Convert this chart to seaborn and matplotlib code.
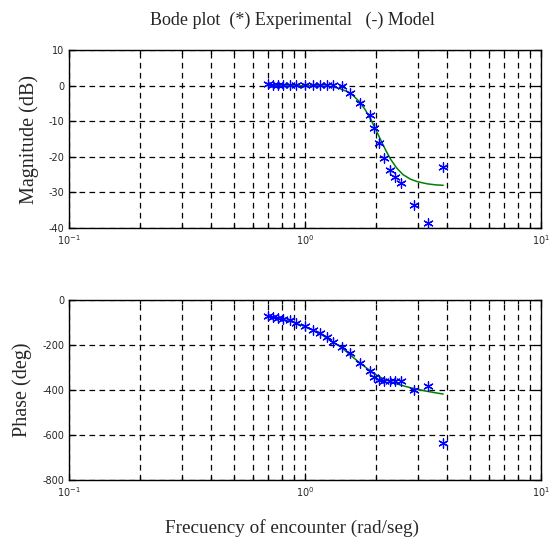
import numpy as np
import pandas as pd
import matplotlib
matplotlib.use("Agg")
import matplotlib.pyplot as plt
import matplotlib.ticker as mticker
import seaborn as sns

# Experimental data
freq = [0.70, 0.73, 0.77, 0.81, 0.86, 0.92, 1.00, 1.08, 1.16, 1.24, 1.32, 1.43,
        1.55, 1.71, 1.89, 1.96, 2.06, 2.17, 2.29, 2.41, 2.54, 2.90, 3.33, 3.85]
mag_exp = [0.4, 0.2, 0.3, 0.1, 0.2, 0.3, 0.2, 0.1, 0.2, 0.1, 0.1, -0.1,
           -2.2, -4.9, -8.3, -12.0, -16.0, -20.4, -23.7, -25.8, -27.4, -33.5, -38.5, -22.9]
phase_exp = [-71, -75, -80, -84, -90, -104, -116, -133, -148, -166, -185, -207,
             -237, -279, -316, -340, -354, -358, -360, -360, -362, -400, -382, -637]

# Model curves
freq_mod = [0.70, 0.80, 0.90, 1.00, 1.10, 1.20, 1.30, 1.40, 1.50, 1.60, 1.70, 1.80,
            1.90, 2.00, 2.10, 2.20, 2.30, 2.45, 2.60, 2.80, 3.00, 3.30, 3.60, 3.85]
mag_mod = [0.0, 0.0, 0.0, 0.0, 0.0, -0.1, -0.3, -0.8, -1.6, -2.8, -4.5, -6.8,
           -9.5, -12.5, -15.5, -18.2, -20.6, -23.2, -25.0, -26.3, -27.0, -27.6, -27.9, -28.0]
phase_mod = [-72, -85, -100, -118, -138, -160, -185, -205, -230, -255, -278, -298,
             -316, -332, -345, -355, -363, -373, -381, -390, -397, -406, -413, -418]

mag_ticks = [10, 0, -10, -20, -30, -40]
phase_ticks = [0, -200, -400, -600, -800]

sns.set_style("ticks")
plt.rcParams['font.family'] = ['DejaVu Sans']

fig = plt.figure(figsize=(5.55, 5.51), dpi=100)
ax1 = fig.add_axes([69/555, (551-228)/551, 472/555, 178/551])
ax2 = fig.add_axes([69/555, (551-480)/551, 472/555, 180/551])

df_exp = pd.DataFrame({"freq": freq, "mag": mag_exp, "phase": phase_exp})
df_mod = pd.DataFrame({"freq": freq_mod, "mag": mag_mod, "phase": phase_mod})

ast = (6, 2, 0)
for ax, col, ticks, lab in [(ax1, "mag", mag_ticks, "Magnitude (dB)"),
                             (ax2, "phase", phase_ticks, "Phase (deg)")]:
    ax.set_xscale("log")
    sns.lineplot(data=df_mod, x="freq", y=col, ax=ax, color="#008000", lw=1.1,
                 zorder=3)
    sns.scatterplot(data=df_exp, x="freq", y=col, ax=ax, marker=ast, s=46,
                    color="#0000ff", edgecolor="#0000ff", linewidth=0.9, zorder=4)
    ax.set_xlim(0.1, 10)
    ax.set_ylim(min(ticks), max(ticks))
    ax.set_yticks(ticks)
    ax.set_yticklabels([str(t) for t in ticks])
    ax.xaxis.set_major_locator(mticker.LogLocator(base=10, numticks=5))
    ax.xaxis.set_minor_locator(mticker.LogLocator(base=10, subs=np.arange(2, 10), numticks=20))
    ax.xaxis.set_minor_formatter(mticker.NullFormatter())
    ax.grid(True, which="both", axis="x", color="black", linestyle=(0, (4.5, 3.5)), lw=0.9)
    ax.grid(True, which="major", axis="y", color="black", linestyle=(0, (4.5, 3.5)), lw=0.9)
    ax.tick_params(which="both", direction="in", top=True, right=True, labelsize=7,
                   color="black", width=0.9)
    ax.tick_params(which="major", length=5)
    ax.tick_params(which="minor", length=3)
    ax.tick_params(axis="x", pad=4)
    for s in ax.spines.values():
        s.set_color("black")
        s.set_linewidth(1.0)
    ax.set_xlabel("")
    ax.set_ylabel(lab, family="Liberation Serif", fontsize=14.5, labelpad=7)

ax1.set_title("Bode plot  (*) Experimental   (-) Model", family="Liberation Serif",
              fontsize=13, pad=18, x=0.473)
ax2.set_xlabel("Frecuency of encounter (rad/seg)", family="Liberation Serif",
               fontsize=13.8, labelpad=14, x=0.473)

fig.savefig("out.png", dpi=100, facecolor="white")
